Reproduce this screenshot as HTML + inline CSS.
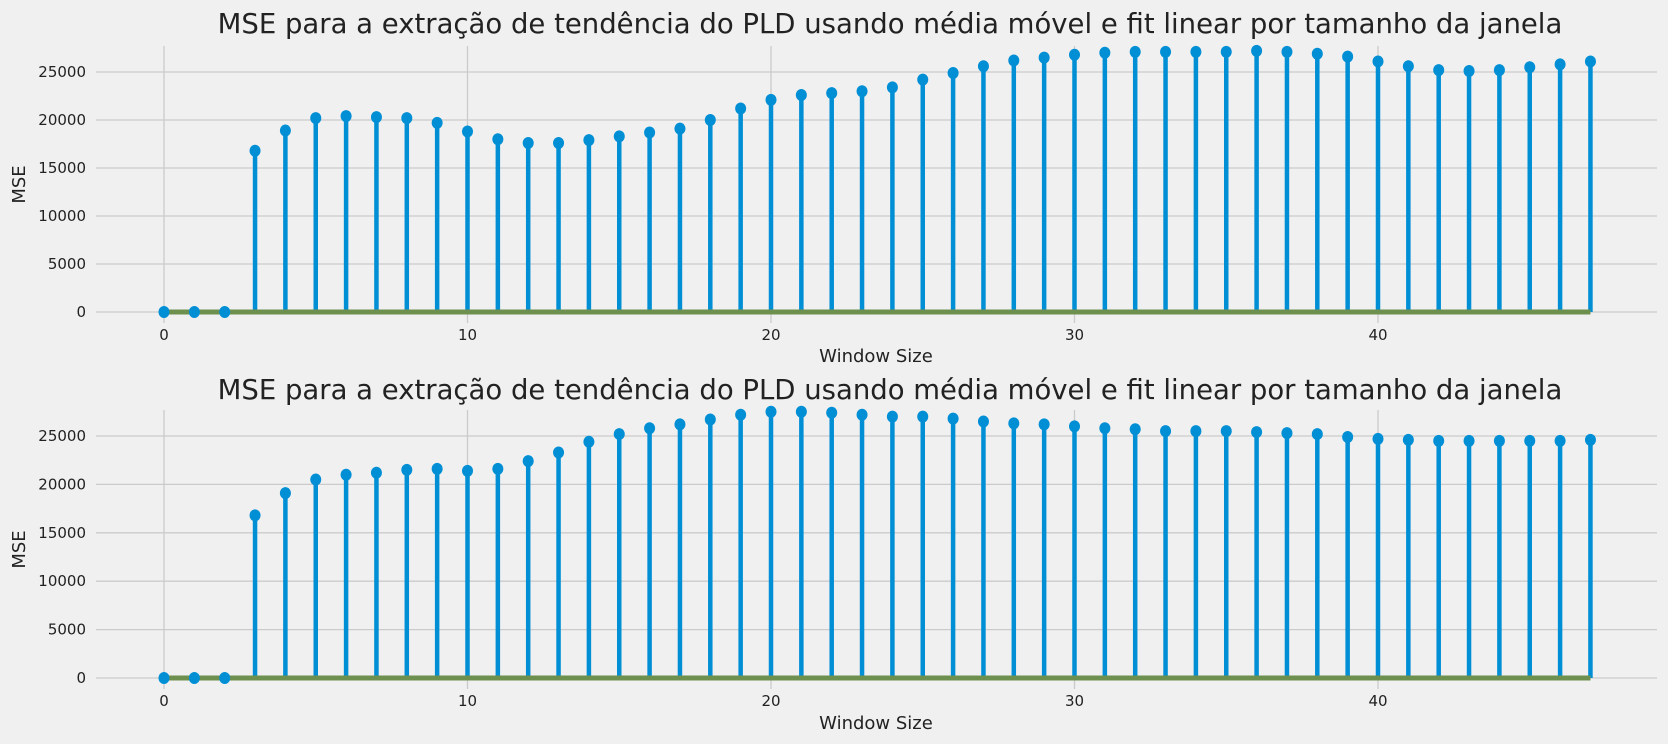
<!DOCTYPE html>
<html><head><meta charset="utf-8"><style>
html,body{margin:0;padding:0;background:#f0f0f0;}
svg{display:block;font-family:"DejaVu Sans","Liberation Sans",sans-serif;}
</style></head><body>
<svg id="fig" width="1668" height="744" viewBox="0 0 1668 744" xmlns="http://www.w3.org/2000/svg"></svg>
<script>
const windows = Array.from({length:48},(_,i)=>i);
const mseTop = [0,0,0,16800,18900,20200,20400,20300,20200,19700,18800,18000,17600,17600,17900,18300,18700,19100,20000,21200,22100,22600,22800,23000,23400,24200,24900,25600,26200,26500,26800,27000,27100,27100,27100,27100,27200,27100,26900,26600,26100,25600,25200,25100,25200,25500,25800,26100];
const mseBottom = [0,0,0,16800,19100,20500,21000,21200,21500,21600,21400,21600,22400,23300,24400,25200,25800,26200,26700,27200,27500,27500,27400,27200,27000,27000,26800,26500,26300,26200,26000,25800,25700,25500,25500,25500,25400,25300,25200,24900,24700,24600,24500,24500,24500,24500,24500,24600];
const xTicks = [0,10,20,30,40];
const yTicks = [0,5000,10000,15000,20000,25000];
const titleText = "MSE para a extração de tendência do PLD usando média móvel e fit linear por tamanho da janela";

const NS="http://www.w3.org/2000/svg";
const svg=document.getElementById('fig');
function mk(tag,attrs,parent){const e=document.createElementNS(NS,tag);for(const k in attrs)e.setAttribute(k,attrs[k]);(parent||svg).appendChild(e);return e;}

function drawPanel(values, cfg, key){
  const g=mk('g',{});
  
  
  const xs=v=>164+v*30.35;
  const ys=v=>cfg.zero - v*(cfg.per5k/5000);
  yTicks.forEach(t=>{
    const l=mk('line',{x1:96,x2:1657,y1:ys(t),y2:ys(t),stroke:'#cbcbcb','stroke-width':1.3},g);
    
    
    const tx=mk('text',{x:86,y:ys(t)+5,'text-anchor':'end','font-size':15,fill:'#222'},g);
    tx.textContent=t;
    
    
  });
  xTicks.forEach(t=>{
    const l=mk('line',{x1:xs(t),x2:xs(t),y1:cfg.top,y2:cfg.bottom,stroke:'#cbcbcb','stroke-width':1.3},g);
    
    
    const tx=mk('text',{x:xs(t),y:cfg.tickY,'text-anchor':'middle','font-size':15,fill:'#222'},g);
    tx.textContent=t;
    
    
  });
  windows.forEach((w,i)=>{
    const s=mk('line',{x1:xs(w),x2:xs(w),y1:ys(0),y2:ys(values[i]),stroke:'#008fd5','stroke-width':4.5},g);
    
    
  });
  const b=mk('line',{x1:xs(windows[0]),x2:xs(windows[windows.length-1]),y1:ys(0),y2:ys(0),stroke:'#6d904f','stroke-width':5},g);
  
  
  windows.forEach((w,i)=>{
    const c=mk('ellipse',{cx:xs(w),cy:ys(values[i]),rx:5.5,ry:6,fill:'#008fd5'},g);
    
    
  });
  const t=mk('text',{x:890,y:cfg.titleY,'text-anchor':'middle','font-size':27.5,fill:'#222'},g);
  t.textContent=titleText;
  
  
  const xl=mk('text',{x:876,y:cfg.xlabelY,'text-anchor':'middle','font-size':18,fill:'#222'},g);
  xl.textContent='Window Size';
  
  
  const ym=(cfg.top+cfg.bottom)/2;
  const yl=mk('text',{x:0,y:0,'text-anchor':'middle','font-size':18,fill:'#222',transform:`translate(25,${ym}) rotate(-90)`},g);
  yl.textContent='MSE';
  
  
}
drawPanel(mseTop,{zero:312,per5k:48,top:46,bottom:323,tickY:340,xlabelY:362,titleY:33},'top');
drawPanel(mseBottom,{zero:678,per5k:48.4,top:410,bottom:689,tickY:706,xlabelY:729,titleY:399},'bottom');
</script>
</body></html>
